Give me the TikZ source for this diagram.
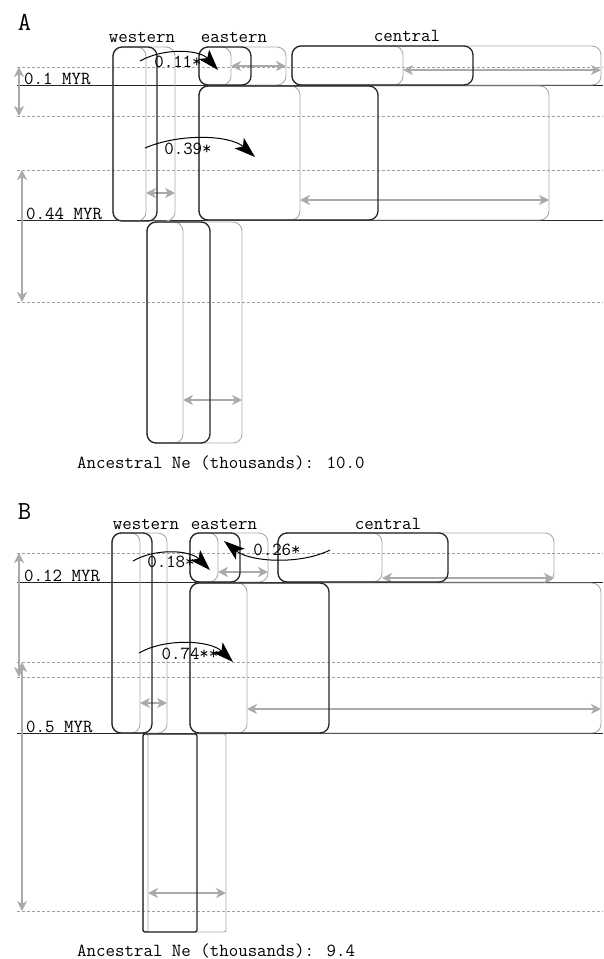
\documentclass[tikz,border=0pt]{standalone}
\usepackage{fontspec}
\usetikzlibrary{arrows.meta,fit}
\definecolor{cigray}{RGB}{170,170,170}
\definecolor{dashgray}{RGB}{160,160,160}
\begin{document}
\begin{tikzpicture}[x=1pt,y=-1pt,
  lbl/.style={font=\ttfamily\fontsize{18.4}{20}\selectfont, inner sep=0pt},
  panel/.style={font=\ttfamily\fontsize{26}{28}\selectfont, inner sep=0pt},
  bbox/.style={draw=black!85, line width=1.3pt, rounded corners=9pt, inner sep=0pt, outer sep=0pt, fit={#1}},
  gbox/.style={draw=cigray, line width=0.9pt, rounded corners=9pt, inner sep=0pt, outer sep=0pt, fit={#1}},
  sbbox/.style={bbox={#1}, rounded corners=2pt},
  sgbox/.style={gbox={#1}, rounded corners=2pt},
  dline/.style={draw=dashgray, line width=0.7pt, dash pattern=on 3pt off 2pt},
  hline/.style={draw=black!85, line width=1pt},
  garr/.style={draw=cigray, line width=1.6pt, {Stealth[length=10pt,width=10pt,inset=3pt]}-{Stealth[length=10pt,width=10pt,inset=3pt]}},
  mig/.style={draw=black, line width=1pt, -{Stealth[length=21pt,width=14pt,inset=5pt]}},
]
\useasboundingbox (0,0) rectangle (603,959);

% ================= Panel A =================
\node[panel] (pA) at (24.5,22) {A};
\node[lbl] (lwA) at (142,37) {western};
\node[lbl] (leA) at (234,37) {eastern};
\node[lbl] (lcA) at (407,36) {central};

\foreach \yy/\nm in {67/dA1,116/dA2,170/dA3,302/dA4}{
  \coordinate (\nm l) at (17,\yy); \coordinate (\nm r) at (603,\yy);
  \draw[dline] (\nm l) -- (\nm r);
}
\coordinate (hA1l) at (17,85); \coordinate (hA1r) at (603,85);
\coordinate (hA2l) at (17,220); \coordinate (hA2r) at (603,220);
\draw[hline] (hA1l) -- (hA1r);
\draw[hline] (hA2l) -- (hA2r);
\node[lbl, anchor=base west] (tA1) at (24,84) {0.1 MYR};
\node[lbl, anchor=base west] (tA2) at (26,219) {0.44 MYR};

\coordinate (vA1a) at (19,67); \coordinate (vA1b) at (19,116);
\coordinate (vA2a) at (22,170); \coordinate (vA2b) at (22,302);
\draw[garr] (vA1a) -- (vA1b);
\draw[garr] (vA2a) -- (vA2b);

% gray CI boxes
\node[gbox={(113,47)(146,221)}] (wAlo) {};
\node[gbox={(113,47)(175,221)}] (wAhi) {};
\node[gbox={(199,47)(231,85)}] (eAlo) {};
\node[gbox={(199,47)(286,85)}] (eAhi) {};
\node[gbox={(292,46)(403,85)}] (cAlo) {};
\node[gbox={(292,46)(601,85)}] (cAhi) {};
\node[gbox={(199,86)(300,220)}] (mAlo) {};
\node[gbox={(199,86)(549,220)}] (mAhi) {};
\node[gbox={(147,222)(183,443)}] (aAlo) {};
\node[gbox={(147,222)(242,443)}] (aAhi) {};

\draw[garr] (wAlo.east |- 0,193) -- (wAhi.east |- 0,193);
\draw[garr] (eAlo.east |- 0,66) -- (eAhi.east |- 0,66);
\draw[garr] (cAlo.east |- 0,70) -- (cAhi.east |- 0,70);
\draw[garr] (mAlo.east |- 0,200) -- (mAhi.east |- 0,200);
\draw[garr] (aAlo.east |- 0,400) -- (aAhi.east |- 0,400);

% black estimate boxes
\node[bbox={(113,47)(157,221)}] (wA) {};
\node[bbox={(199,47)(251,85)}] (eA) {};
\node[bbox={(292,46)(473,85)}] (cA) {};
\node[bbox={(199,86)(378,220)}] (mA) {};
\node[bbox={(147,222)(210,443)}] (aA) {};

% migration
\node[lbl] (mgA1) at (178,62) {0.11*};
\node[lbl] (mgA2) at (188,149) {0.39*};
\coordinate (sA1) at (140,61); \coordinate (tA1t) at (218,70);
\coordinate (sA2) at (145,148); \coordinate (tA2t) at (255,157);
\draw[mig] (sA1) .. controls (165,47) and (200,50) .. (tA1t);
\draw[mig] (sA2) .. controls (180,133) and (230,135) .. (tA2t);

\node[lbl, anchor=west] (neA) at (77,463) {Ancestral Ne (thousands): 10.0};

% ================= Panel B =================
\node[panel] (pB) at (24.5,512) {B};
\node[lbl] (lwB) at (146,524) {western};
\node[lbl] (leB) at (224,524) {eastern};
\node[lbl] (lcB) at (388,524) {central};

\foreach \yy/\nm in {553/dB1,662/dB2,677/dB3,911/dB4}{
  \coordinate (\nm l) at (17,\yy); \coordinate (\nm r) at (603,\yy);
  \draw[dline] (\nm l) -- (\nm r);
}
\coordinate (hB1l) at (17,582); \coordinate (hB1r) at (603,582);
\coordinate (hB2l) at (17,733); \coordinate (hB2r) at (603,733);
\draw[hline] (hB1l) -- (hB1r);
\draw[hline] (hB2l) -- (hB2r);
\node[lbl, anchor=base west] (tB1) at (24,581) {0.12 MYR};
\node[lbl, anchor=base west] (tB2) at (26,732) {0.5 MYR};

\coordinate (vB1a) at (19,553); \coordinate (vB1b) at (19,677);
\coordinate (vB2a) at (22,662); \coordinate (vB2b) at (22,911);
\draw[garr] (vB1a) -- (vB1b);
\draw[garr] (vB2a) -- (vB2b);

\node[gbox={(112,533)(140,733)}] (wBlo) {};
\node[gbox={(112,533)(167,733)}] (wBhi) {};
\node[gbox={(190,533)(218,582)}] (eBlo) {};
\node[gbox={(190,533)(268,582)}] (eBhi) {};
\node[gbox={(278,533)(382,582)}] (cBlo) {};
\node[gbox={(278,533)(554,582)}] (cBhi) {};
\node[gbox={(190,583)(247,733)}] (mBlo) {};
\node[gbox={(190,583)(601,733)}] (mBhi) {};
\node[sgbox={(143,734)(148,932)}] (aBlo) {};
\node[sgbox={(143,734)(226,932)}] (aBhi) {};

\draw[garr] (wBlo.east |- 0,703) -- (wBhi.east |- 0,703);
\draw[garr] (eBlo.east |- 0,572) -- (eBhi.east |- 0,572);
\draw[garr] (cBlo.east |- 0,578) -- (cBhi.east |- 0,578);
\draw[garr] (mBlo.east |- 0,709) -- (mBhi.east |- 0,709);
\draw[garr] (aBlo.east |- 0,893) -- (aBhi.east |- 0,893);

\node[bbox={(112,533)(152,733)}] (wB) {};
\node[bbox={(190,533)(240,582)}] (eB) {};
\node[bbox={(278,533)(448,582)}] (cB) {};
\node[bbox={(190,583)(329,733)}] (mB) {};
\node[sbbox={(143,734)(197,932)}] (aB) {};

\node[lbl] (mgB1) at (171,562) {0.18*};
\node[lbl] (mgB2) at (277,550) {0.26*};
\node[lbl] (mgB3) at (190,654) {0.74**};
\coordinate (sB1) at (133,561); \coordinate (tB1t) at (210,570);
\coordinate (sB2) at (330,550); \coordinate (tB2t) at (224,541);
\coordinate (sB3) at (139,653); \coordinate (tB3t) at (233,662);
\draw[mig] (sB1) .. controls (155,548) and (190,550) .. (tB1t);
\draw[mig] (sB2) .. controls (300,565) and (250,562) .. (tB2t);
\draw[mig] (sB3) .. controls (165,638) and (210,640) .. (tB3t);

\node[lbl, anchor=west] (neB) at (77,951) {Ancestral Ne (thousands): 9.4};
\end{tikzpicture}
\end{document}
